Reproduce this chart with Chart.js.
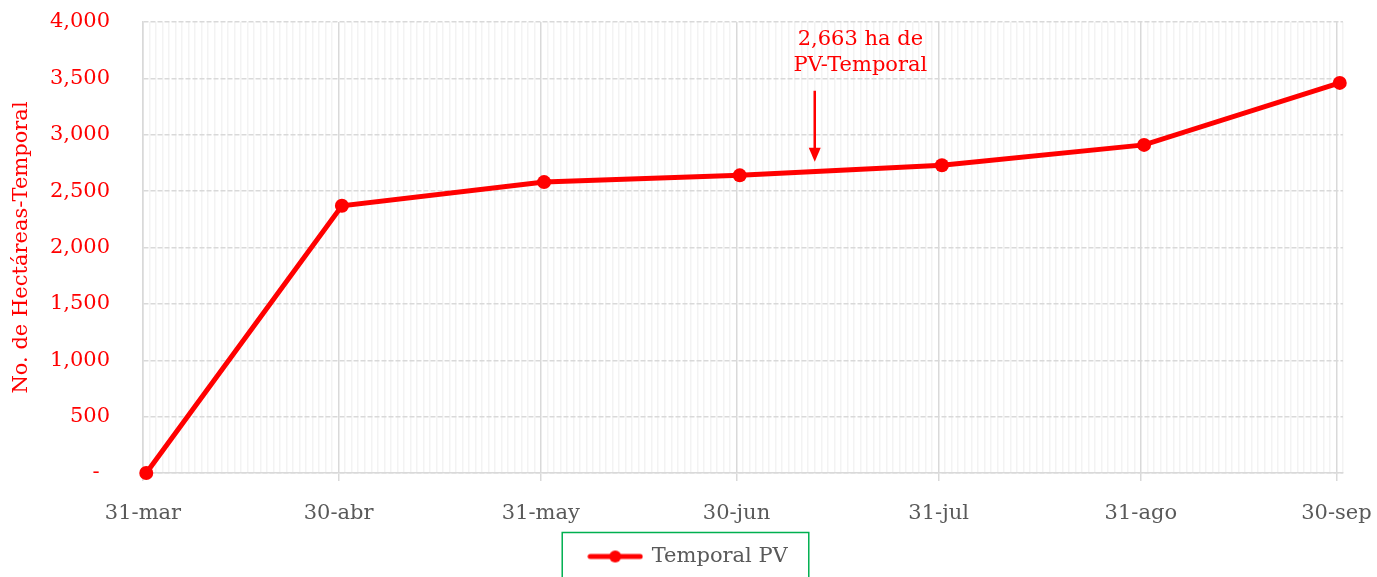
<!DOCTYPE html>
<html>
<head>
<meta charset="utf-8">
<script src="https://cdn.jsdelivr.net/npm/chart.js@4"></script>
<style>
    html, body { margin: 0; padding: 0; background: #fff; }
    #wrap { width: 1377px; height: 577px; }
</style>
</head>
<body>
<div id="wrap"><canvas id="pvChart" width="1377" height="577"></canvas></div>
<script>
// month-end labels and their day offset from 31-mar
const monthLabels = ['31-mar', '30-abr', '31-may', '30-jun', '31-jul', '31-ago', '30-sep'];
const dayOffsets = [0, 30, 61, 91, 122, 153, 183];
const temporalPV = [0, 2370, 2580, 2640, 2730, 2910, 3460];
const totalDays = 184;

const yTicks = [0, 500, 1000, 1500, 2000, 2500, 3000, 3500, 4000];

const noteLines = ['2,663 ha de', 'PV-Temporal'];
const noteDay = 103;

const RED = '#ff0000';
const GREY_TEXT = '#595959';
const FONT = '"DejaVu Serif", serif';
const FSIZE = 21;

// legend marker: line with a dot
function makeLegendMarker() {
    const c = document.createElement('canvas');
    c.width = 56;
    c.height = 14;
    const g = c.getContext('2d');
    g.strokeStyle = RED;
    g.lineWidth = 5;
    g.lineCap = 'round';
    g.beginPath();
    g.moveTo(3, 7);
    g.lineTo(53, 7);
    g.stroke();
    g.fillStyle = RED;
    g.beginPath();
    g.arc(28, 7, 6, 0, Math.PI * 2);
    g.fill();
    return c;
}

const majorDays = new Set(dayOffsets);

const noteAndLegendBox = {
    id: 'noteAndLegendBox',
    afterDatasetsDraw(chart) {
        const ctx = chart.ctx;
        const x = chart.scales.x;
        const y = chart.scales.y;
        ctx.save();
        ctx.fillStyle = RED;
        ctx.font = FSIZE + 'px ' + FONT;
        ctx.textAlign = 'center';
        ctx.textBaseline = 'middle';
        const tx = x.getPixelForValue(110);
        ctx.fillText(noteLines[0], tx, y.getPixelForValue(3840));
        ctx.fillText(noteLines[1], tx, y.getPixelForValue(3610));

        const ax = x.getPixelForValue(noteDay);
        const top = y.getPixelForValue(3390);
        const tip = y.getPixelForValue(2760);
        ctx.strokeStyle = RED;
        ctx.lineWidth = 2.5;
        ctx.beginPath();
        ctx.moveTo(ax, top);
        ctx.lineTo(ax, tip - 12);
        ctx.stroke();
        ctx.beginPath();
        ctx.moveTo(ax - 6, tip - 14);
        ctx.lineTo(ax + 6, tip - 14);
        ctx.lineTo(ax, tip);
        ctx.closePath();
        ctx.fill();
        ctx.restore();
    },
    afterDraw(chart) {
        const hb = chart.legend.legendHitBoxes[0];
        if (!hb) return;
        const ctx = chart.ctx;
        ctx.save();
        ctx.strokeStyle = '#00b050';
        ctx.lineWidth = 1.5;
        const left = hb.left - 27;
        const right = hb.left + hb.width + 21;
        ctx.strokeRect(left, hb.top + hb.height / 2 - 24, right - left, 80);
        ctx.restore();
    }
};

new Chart(document.getElementById('pvChart'), {
    type: 'line',
    data: {
        datasets: [{
            label: 'Temporal PV',
            data: dayOffsets.map((d, i) => ({ x: d + 0.5, y: temporalPV[i] })),
            borderColor: RED,
            backgroundColor: RED,
            borderWidth: 5,
            pointRadius: 7,
            pointBackgroundColor: RED,
            pointBorderWidth: 0,
            tension: 0,
            clip: false
        }]
    },
    options: {
        responsive: false,
        animation: false,
        layout: { padding: { top: 0, right: 0, left: 0, bottom: 0 } },
        plugins: {
            tooltip: { enabled: false },
            legend: {
                position: 'bottom',
                labels: {
                    usePointStyle: true,
                    pointStyle: makeLegendMarker(),
                    pointStyleWidth: 52,
                    padding: 14,
                    color: GREY_TEXT,
                    font: { family: FONT, size: FSIZE }
                }
            }
        },
        scales: {
            x: {
                type: 'linear',
                min: 0,
                max: totalDays,
                afterBuildTicks: s => {
                    s.ticks = [];
                    for (let d = 0; d <= totalDays; d++) s.ticks.push({ value: d });
                },
                afterFit: s => {
                    s.height = 577 - s.chart.legend.height - 473;
                    s.paddingRight = 34;
                },
                ticks: {
                    autoSkip: false,
                    maxRotation: 0,
                    minRotation: 0,
                    padding: 20,
                    color: GREY_TEXT,
                    font: { family: FONT, size: FSIZE },
                    callback: v => {
                        const i = dayOffsets.indexOf(v);
                        return i >= 0 ? monthLabels[i] : '';
                    }
                },
                grid: {
                    tickLength: 8,
                    color: c => majorDays.has(c.tick && c.tick.value) ? '#d9d9d9' : '#f3f3f3',
                    lineWidth: 1.5,
                    tickColor: c => majorDays.has(c.tick && c.tick.value) ? '#d9d9d9' : 'rgba(0,0,0,0)'
                },
                border: { color: '#d9d9d9', width: 1.5 }
            },
            y: {
                min: 0,
                max: 4000,
                afterBuildTicks: s => { s.ticks = yTicks.map(v => ({ value: v })); },
                afterFit: s => {
                    s.width = 143;
                    s.paddingTop = 22;
                },
                ticks: {
                    padding: 33,
                    color: RED,
                    font: { family: FONT, size: FSIZE },
                    callback: v => v === 0 ? '-\u2002' : v.toLocaleString('en-US')
                },
                grid: {
                    drawTicks: false,
                    color: '#d9d9d9',
                    lineWidth: 1.5
                },
                border: { color: '#d9d9d9', width: 1.5, dash: [5, 2] },
                title: {
                    display: true,
                    text: 'No. de Hectáreas-Temporal',
                    color: RED,
                    font: { family: FONT, size: FSIZE },
                    padding: { top: 9, bottom: 0 }
                }
            }
        }
    },
    plugins: [noteAndLegendBox]
});
</script>
</body>
</html>
